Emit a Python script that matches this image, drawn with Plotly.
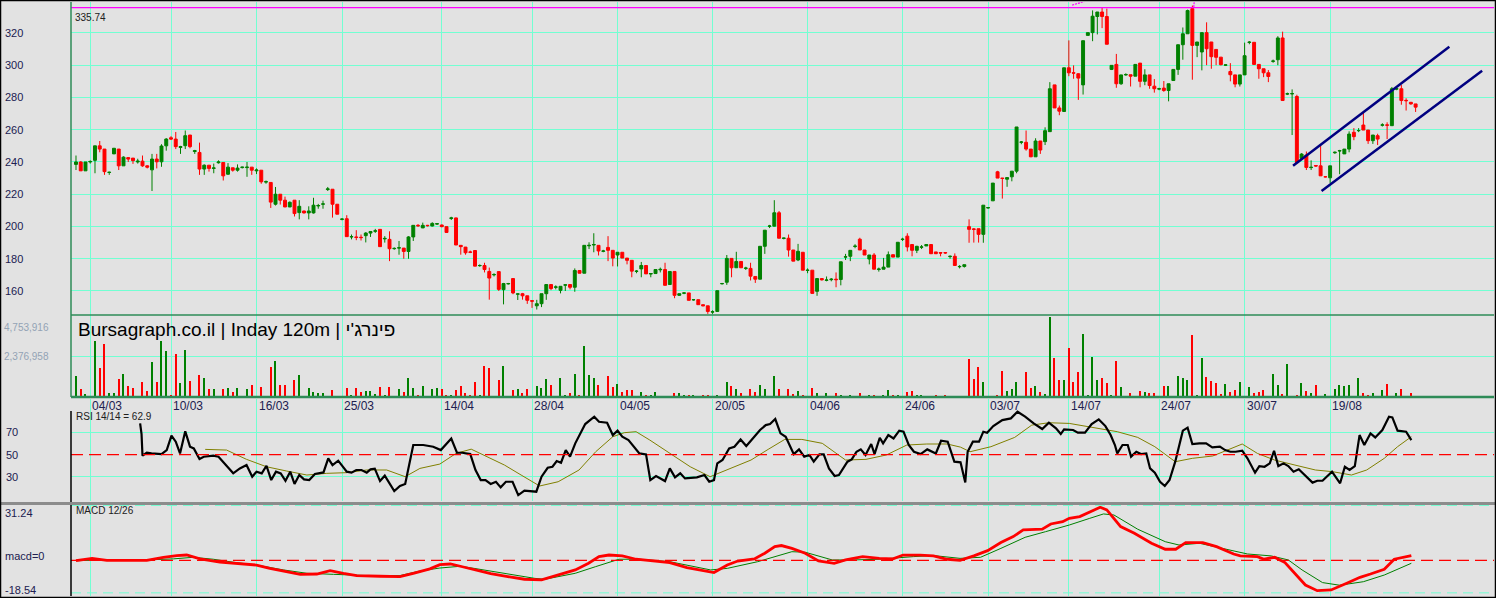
import plotly.graph_objects as go

# %% values, one entry per 120m bar
opens = [
    238.5, 240, 234.5, 240, 241, 250, 248, 233.5, 245, 248,
    237.6, 242.7, 242.4, 240, 240.5, 237.6, 235.1, 241.8, 240.1, 250,
    255, 254.2, 249, 250.1, 256.7, 246.5, 245.9, 235.6, 238, 236,
    239.5, 239.7, 232.4, 236.4, 234.9, 236.5, 236.5, 236.8, 234.5, 234.9,
    227.5, 227.3, 213.8, 220, 216.3, 212.1, 216.3, 208.6, 209.6, 208.4,
    208.4, 212.7, 213.8, 222.9, 223.1, 213.8, 204.4, 204.8, 193.5, 193.5,
    193.3, 194.3, 195.9, 197, 198.2, 192.3, 192, 186.2, 186.6, 186.6,
    184.5, 193.5, 200.7, 199.1, 200.7, 200.3, 201.5, 200.9, 199.9, 205,
    205.3, 188.3, 187.2, 184.2, 185.1, 175.7, 175.8, 172.1, 170, 172,
    160.8, 164.4, 167.7, 158, 158.3, 157, 154, 150.8, 152.1, 158.3,
    164, 162.3, 160.4, 163.6, 164, 162.3, 172.7, 171, 188, 188.5,
    188.3, 184.6, 187, 185.2, 182.3, 184, 180.4, 179, 172.1, 173.7,
    175.8, 170.5, 170.8, 173.1, 173.3, 164, 172.1, 157.3, 158.6, 158.8,
    154.5, 154.6, 151.5, 150.8, 146.9, 147.3, 164.5, 165.4, 180.2, 174.4,
    178.3, 174, 174, 169, 167.3, 187.7, 200.1, 200.2, 208.5, 192.6,
    192.7, 185.4, 179.2, 184, 172.7, 172.9, 159.8, 167.7, 166.6, 167,
    167.3, 167.1, 181, 181.5, 187.6, 192.1, 185.4, 179.8, 182.3, 173.3,
    173.5, 174.8, 182.5, 181, 191.9, 194, 188.8, 185.2, 187.1, 187.9,
    188.8, 184.2, 183.8, 183.8, 181.3, 181.5, 175, 175.2, 199.9, 198.5,
    198.6, 195.1, 211.5, 215.9, 233.9, 230, 229.3, 230.8, 234.3, 252.2,
    252.2, 248, 243.2, 253, 252.6, 258.8, 287.8, 273.5, 271.3, 298.4,
    295.3, 294.7, 287.8, 318.5, 320.2, 330.2, 333, 330.2, 297.4, 300.5,
    288.5, 294, 294.1, 293.2, 301.3, 290, 294, 287, 285.2, 285.8,
    284.3, 290.5, 297.4, 312.7, 319.5, 335.1, 312.3, 308.2, 320.2, 314.4,
    309.8, 305, 300, 296.1, 294, 288.3, 294, 314.1, 314.2, 300.5,
    297.8, 295.3, 302.4, 303.4, 316.9, 282.1, 282.2, 280.6, 242.2, 244.3,
    236.5, 237.8, 237.6, 230.8, 230.2, 245.7, 246.8, 245, 248, 258.4,
    259.4, 262.9, 259.8, 253.2, 256.3, 262.8, 263, 262.5, 285.2, 285.4,
    278.2, 277, 276,
]
highs = [
    244, 240.5, 240, 241, 250, 253, 248, 234, 248.5, 248,
    243.5, 243, 242.4, 242, 244, 238, 245, 245, 251, 254.8,
    256, 258.6, 250, 259.5, 256.7, 247.5, 252, 238.5, 238, 239,
    241, 239.7, 239.3, 236.4, 238.5, 237, 240, 236.8, 236, 234.9,
    228.5, 227.3, 224.5, 220, 218.5, 215.5, 216.3, 216.3, 209.8, 212.5,
    217.8, 214, 216, 224.5, 223.1, 213.8, 205, 207, 195, 197.7,
    195, 196.5, 197, 198.5, 198.2, 194, 197, 187, 191, 186.6,
    194, 200.7, 201.5, 202.4, 201, 202.6, 202, 201.2, 200, 206,
    205.5, 188.3, 187.3, 185, 185.1, 176.5, 177.5, 174.5, 171, 172,
    165, 165, 167.7, 158.5, 158.8, 157, 154, 154.5, 158.3, 164,
    164, 163.5, 163, 164, 164, 174, 172.7, 188.3, 190.2, 195.8,
    188.3, 185.5, 194, 185.2, 184, 184, 180.4, 179, 173, 178,
    175.8, 171, 173.3, 174.5, 177.5, 172.1, 172.1, 158.3, 159, 158.8,
    155, 154.6, 151.5, 150.8, 148, 160.2, 165, 182.3, 180.2, 184.3,
    178.3, 175, 177.5, 169, 187.7, 197.7, 201, 216.3, 209.6, 193,
    195, 185.4, 189.2, 184, 174, 172.9, 167.7, 167.7, 169, 168,
    171.5, 178.1, 183, 185.2, 189, 193, 185.4, 182.3, 183.5, 174.5,
    180.5, 184.5, 182.5, 190.2, 193, 195.8, 188.8, 188, 188.5, 189,
    189, 184.2, 184, 184, 182, 183.3, 176, 176.3, 204.4, 199,
    198.6, 213.2, 212, 226.9, 234.5, 230, 230.3, 234.3, 261.7, 253,
    259.5, 248, 254.7, 253, 261.5, 289.5, 287.8, 275, 298.4, 315.4,
    299.9, 295, 315.2, 320.2, 334, 333, 335.5, 335.1, 299.9, 307,
    294, 295, 294.1, 300.5, 301.3, 297.5, 294, 291.4, 286, 290.2,
    288.5, 297.4, 312.7, 323.4, 334.5, 337, 314.4, 320.2, 326.6, 314.4,
    310, 305, 300.5, 301.3, 294, 294, 314, 315, 314.2, 300.5,
    297.8, 297, 303.5, 318, 320.8, 283, 285, 281.7, 245.5, 246.5,
    241, 238, 250.7, 231.2, 237.6, 246.5, 247.5, 248, 259, 261,
    261, 271.2, 259.8, 256.7, 257.5, 264, 264.6, 286.5, 286, 287.7,
    279.5, 277.2, 276,
]
lows = [
    235, 234.5, 234.5, 239, 233, 246, 232, 232, 245, 235,
    237.6, 240, 238.8, 239, 237, 236, 222, 236, 237, 247,
    253.6, 248, 245, 248, 248.5, 245, 232, 232, 234, 233,
    239, 228.5, 232, 234, 234, 236, 230.8, 232, 232.5, 226.5,
    226.5, 211.5, 213, 213.6, 212, 212, 206.2, 204.4, 208, 204.4,
    208, 211, 211, 222, 205.5, 207.6, 203.8, 193.7, 192, 191.5,
    191.3, 190.1, 193.5, 196, 187.5, 190, 178.5, 185.6, 182.5, 180,
    180, 191, 199.8, 199, 200, 200, 201, 199.5, 196, 204,
    188.5, 182.5, 182.5, 183.5, 175.4, 175, 171.5, 154.6, 169, 160,
    151.7, 164, 158, 154.4, 154.6, 152, 149.5, 148.5, 150, 154.5,
    160.5, 161, 158.5, 160, 161, 159.5, 171, 171, 186, 184,
    182, 184, 178.5, 175.3, 175.2, 180.4, 176.5, 168.5, 171, 168.5,
    170.6, 168.5, 170.8, 171.5, 163.5, 164, 155.5, 157, 158, 154.2,
    154, 151.5, 150.5, 145.8, 145.8, 147.3, 164, 163.8, 168.5, 174.4,
    174.4, 173, 166.5, 165, 167.3, 183, 199, 200, 192.7, 192,
    181.3, 178.5, 178.5, 172.9, 171, 158.5, 157, 166.5, 166, 166,
    162.3, 163.5, 179.2, 178.5, 186.5, 185.4, 182.3, 176.5, 173.5, 172,
    173.5, 174.8, 181, 181, 191, 184.5, 181.5, 183.5, 186, 187.9,
    183, 183.1, 181.5, 183, 180, 175.8, 174, 174.5, 189.9, 190,
    190, 189.9, 211, 215.9, 230, 217.3, 224.6, 228, 233, 251,
    247, 243, 243.2, 245, 250.5, 258.8, 273.5, 269, 271.3, 293.2,
    291.6, 278.5, 281.8, 318.5, 314.9, 319.1, 323, 313, 297, 286,
    287.8, 293.5, 286.8, 293.2, 286.3, 287.6, 285.4, 283, 284.5, 283.5,
    277.6, 290.5, 294, 303.4, 319.5, 291, 305, 296.8, 300, 297.8,
    300, 299.9, 299.5, 290, 286.3, 286.8, 294, 313, 300.5, 291.6,
    292.6, 289.5, 301.5, 300, 278.1, 281.5, 256.7, 239.7, 241.5, 235,
    235, 237, 231.4, 230.4, 227, 245, 232.4, 245, 246, 253.5,
    258.5, 259.8, 251.2, 251.2, 250.5, 262, 254.2, 262.5, 284.5, 275.5,
    271.9, 275.5, 271,
]
closes = [
    240, 234.5, 240, 240.3, 250, 248, 234, 233.6, 248.5, 237.6,
    243, 241.8, 240.8, 240.5, 237.6, 236.8, 241.8, 240.1, 249.9, 254.2,
    254.2, 249.5, 249.5, 256.3, 249.5, 247, 235.6, 238, 236, 236.3,
    240, 231.4, 236.8, 234.9, 236.2, 236.8, 236.8, 234.9, 235, 227.7,
    227.8, 215.1, 220, 216.3, 212.1, 215, 208, 212.5, 208.4, 209.6,
    213.2, 213, 214, 223.3, 213.8, 207.6, 204.6, 193.7, 193.7, 193.2,
    193.1, 195.9, 196.9, 197.3, 187.5, 192.6, 186.2, 186.4, 186.8, 184.5,
    193.5, 200.7, 200.4, 200.7, 200.5, 201.9, 201.7, 199.9, 196.3, 205.3,
    188.5, 187.5, 183.7, 184, 175.4, 175.8, 173.3, 168, 170.2, 161,
    164.6, 164.6, 158.8, 158.2, 157, 154.2, 153.7, 152.1, 158.3, 164,
    161.5, 162.5, 162.9, 163.8, 162.3, 172.7, 171, 188.3, 188.3, 188.8,
    184.8, 184.8, 185.2, 180.4, 184, 180.4, 179, 172.3, 172.3, 175.8,
    170.6, 170.8, 173.3, 173.4, 163.5, 172.1, 157.3, 158.3, 158.8, 154.2,
    154.6, 151.5, 150.8, 147.3, 147.1, 160.2, 164.6, 180.2, 174.4, 178.3,
    174.4, 174.2, 169.2, 167.3, 187.7, 197.7, 200.3, 208.5, 192.7, 192.8,
    185.4, 178.5, 184.6, 172.9, 172.9, 158.5, 167.7, 166.9, 166.8, 167.3,
    167, 178.1, 181.2, 185.2, 187.8, 185.4, 182.3, 182.3, 173.5, 173.6,
    174.8, 182.5, 181, 190.2, 192.1, 187.3, 185.2, 187.7, 187.3, 188.8,
    183.1, 183.1, 183.5, 183.6, 181.5, 175.8, 175.2, 176.3, 198.2, 198.2,
    195.1, 213.2, 211.7, 226.9, 230, 229.8, 230.3, 234.3, 261.7, 252.4,
    248, 243.2, 253, 247.4, 259.4, 285.4, 273.5, 271.5, 298.4, 295.3,
    295.1, 292, 315.2, 320.2, 330.4, 333, 330.2, 313, 299.9, 288.5,
    294, 294.2, 293.2, 300.5, 290, 294, 287.4, 285.4, 285.4, 284.3,
    288.5, 297.4, 312.7, 319.5, 333.9, 312.3, 314.4, 320.2, 310.2, 305.3,
    304.9, 300.3, 300.2, 294.1, 288.3, 294, 305.9, 314.3, 300.5, 297.8,
    295.3, 293, 302.6, 316.9, 278.1, 282.3, 282.4, 239.7, 244.9, 236.6,
    236.7, 237.5, 231.4, 230.8, 237.6, 246, 247, 248, 257.3, 255.7,
    259.5, 259.8, 253.2, 256.7, 254.2, 263, 262.8, 285.4, 285.4, 278.1,
    278, 276, 274,
]
# volume, millions of shares
vol_m = [
    1.23, 0.46, 0.16, 0, 3.31, 1.70, 3.15, 0.2, 0.2, 1.05,
    1.35, 0.63, 0.5, 0, 0.87, 0.36, 2.06, 0.87, 3.31, 2.69,
    0.1, 2.54, 0.81, 2.77, 0.95, 0, 1.29, 1.11, 0.46, 0.46,
    0, 0.46, 0.5, 0.3, 0.5, 0, 0.46, 0.69, 0, 0.57,
    0, 1.76, 2.12, 0.69, 0.69, 0, 0.99, 1.29, 0, 0.5,
    0.3, 0.2, 0.2, 0, 0.4, 0, 0, 0.5, 0.12, 0.5,
    0.3, 0.36, 0.36, 0.15, 0.57, 0.1, 0.57, 0, 0.46, 0.3,
    1.11, 0.5, 0.12, 0.63, 0, 0.46, 0.5, 0.46, 0.12, 0.12,
    0.4, 0.63, 0.2, 0.12, 0.87, 0.12, 1.82, 1.70, 0, 0.99,
    1.82, 0, 0.4, 0.46, 0.2, 0.46, 0, 0.63, 0.5, 1.05,
    0.69, 0, 1.11, 0.12, 0.2, 1.35, 0.12, 3.01, 1.29, 1.11,
    0.69, 0, 1.23, 0.57, 0.75, 0.28, 0.4, 0.4, 0, 0.28,
    0.12, 0.1, 0.28, 0, 0, 0, 0.2, 0.2, 0.12, 0.1,
    0.1, 0, 0.1, 0.1, 0, 0.1, 0, 0.87, 0.63, 0.46,
    0.2, 0, 0.46, 0.28, 0.69, 0.46, 0, 1.23, 0.46, 0,
    0.46, 0.15, 0.34, 0.1, 0, 0.5, 0.2, 0, 0.2, 0,
    0.2, 0.12, 0, 0.1, 0, 0.2, 0, 0.12, 0.12, 0,
    0.1, 0.4, 0.1, 0.12, 0, 0.28, 0.34, 0.1, 0.1, 0,
    0, 0.1, 0, 0.1, 0, 0, 0, 0, 2.24, 1.05,
    1.76, 0.87, 0, 0, 0.1, 1.53, 0.34, 0.46, 0.87, 0,
    1.47, 0.5, 0.63, 0.28, 0.15, 4.75, 2.30, 0.99, 0.99, 2.89,
    0.87, 1.47, 3.72, 0.1, 2.36, 0.99, 1.11, 0.81, 0.1, 2.12,
    0.57, 0, 0.2, 0, 0.34, 0.28, 0.2, 0.2, 0, 0.63,
    0.63, 0, 1.23, 1.11, 0.99, 3.66, 0.1, 2.30, 1.17, 0.93,
    0.81, 0.15, 0.75, 0.28, 0.4, 0.87, 0, 0.57, 0.2, 0.28,
    0.4, 0, 1.35, 0.69, 0.15, 1.94, 0, 0.1, 0.81, 0.34,
    0.2, 0.69, 0, 0.15, 0, 0.46, 0.69, 0.63, 0.69, 0,
    1.11, 0.2, 0.12, 0.2, 0, 0.4, 0.75, 0, 0.2, 0.46,
    0, 0.2, 0,
]

# dates on the vertical grid (bar index where the day starts)
date_idx = [3, 20, 38, 56, 77, 96, 114, 134, 154, 174, 192, 209, 228, 246, 264]
date_labels = ['04/03', '10/03', '16/03', '25/03', '14/04', '28/04', '04/05', '20/05',
               '04/06', '24/06', '03/07', '14/07', '24/07', '30/07', '19/08']

price_ticks = [160, 180, 200, 220, 240, 260, 280, 300, 320]
price_max = 335.74
vol_ticks = [4.753916, 2.376958]
vol_labels = ['4,753,916', '2,376,958']
rsi_ticks = [70, 50, 30]
macd_top, macd_bot = 31.24, -18.54

# RSI 14 (line vertices, bar index / value)
rsi_x = [13.5, 13.8, 14.0, 14.9, 15.9, 18.0, 19.1, 20.1, 21.0, 21.9,
         23.0, 24.0, 24.8, 26.0, 26.9, 28.9, 30.0, 33.1, 34.5, 35.9,
         37.1, 38.0, 39.1, 40.1, 41.1, 42.1, 43.1, 44.1, 45.1, 46.0,
         47.0, 48.0, 49.1, 50.3, 52.1, 53.1, 54.0, 55.2, 57.0, 58.0,
         59.0, 60.1, 61.2, 62.0, 62.9, 64.0, 65.0, 66.0, 67.0, 68.2,
         69.3, 71.0, 73.1, 75.2, 76.8, 79.0, 80.2, 81.3, 83.0, 84.1,
         85.2, 86.2, 87.3, 88.4, 89.4, 90.5, 91.9, 93.1, 94.4, 96.9,
         98.0, 99.3, 100.3, 101.2, 102.1, 103.1, 104.0, 105.1, 106.1, 107.2,
         109.1, 110.1, 111.8, 113.0, 114.0, 115.0, 116.3, 117.2, 118.6, 120.0,
         120.9, 122.1, 124.0, 125.0, 126.1, 127.2, 128.2, 130.7, 132.3, 133.3,
         134.3, 135.0, 136.1, 137.5, 138.6, 139.9, 141.1, 142.2, 144.0, 145.2,
         146.1, 147.2, 148.3, 149.4, 151.1, 152.2, 153.3, 154.4, 155.3, 156.5,
         157.4, 158.5, 159.7, 160.6, 162.4, 163.3, 164.3, 165.2, 166.2, 167.4,
         168.1, 169.2, 169.9, 171.0, 172.1, 173.3, 174.2, 175.3, 176.4, 177.8,
         179.2, 181.0, 182.1, 183.5, 184.9, 186.2, 187.2, 187.7, 188.8, 190.1,
         191.0, 191.8, 193.1, 195.0, 196.8, 198.2, 199.8, 201.6, 203.4, 204.8,
         206.3, 207.3, 208.0, 209.9, 210.9, 212.4, 213.8, 215.3, 216.7, 217.8,
         218.7, 219.2, 220.3, 221.4, 222.1, 223.2, 224.2, 225.3, 226.1, 227.1,
         228.2, 229.2, 230.2, 231.4, 232.2, 233.0, 234.0, 235.0, 236.5, 237.9,
         239.2, 240.8, 241.9, 243.0, 244.1, 245.5, 246.6, 248.2, 249.1, 250.2,
         251.3, 252.2, 253.1, 254.2, 255.2, 256.3, 257.4, 260.3, 261.3, 262.4,
         264.4, 265.3, 266.1, 267.1, 268.1, 269.2, 270.2, 271.2, 272.5, 273.5,
         275.0, 276.4, 277.1, 278.2, 280.0, 281.1]
rsi_v = [77.8, 68.3, 49, 51.6, 51, 50.4, 54, 66.8, 61.5, 51,
         70.7, 57, 55.5, 46, 48, 49, 48, 33.2, 37.6, 40.6,
         30.2, 34.7, 33.2, 40, 27.2, 34.7, 33.2, 26.6, 34.7, 23.7,
         31.7, 27.8, 27.2, 32.6, 34, 46.6, 40.6, 44.5, 34.7, 33.8,
         36.2, 36.2, 33.8, 36.8, 37.4, 26.3, 31.1, 24.3, 17.4, 21.9,
         23.7, 58.5, 58.5, 57, 54, 64.3, 51.6, 51.6, 50.4, 36.2,
         27.2, 27.2, 23.7, 25.7, 20.7, 25.7, 25.7, 13.8, 17.7, 16.8,
         30.2, 38.2, 39.1, 44.2, 42.7, 54, 48.1, 60, 68.9, 77.2,
         83.8, 79.3, 78.4, 67.4, 71.3, 65.9, 62.9, 58.5, 51, 50.1,
         27.2, 30.8, 26.3, 37.6, 29.6, 33.2, 28.7, 29.6, 31.7, 25.7,
         27.2, 42.1, 45.1, 55.5, 57, 63.5, 57.6, 62.9, 71.9, 76.3,
         77.2, 81.7, 68.9, 65.9, 50.4, 54.6, 48.1, 49.6, 43.6, 50.1,
         50.1, 37.6, 30.8, 31.7, 43.6, 45.7, 52.5, 54.6, 49.6, 59.4,
         50.4, 65, 60, 67.4, 64.4, 71.3, 70.4, 58.5, 52.5, 50.4,
         54.6, 51, 62.3, 61.4, 43.6, 43, 25, 52.5, 61.5, 61.5,
         70.4, 69.5, 75.4, 80.8, 82.3, 88.2, 83.8, 77.8, 72.8, 78.4,
         73.4, 68.3, 72.5, 71.9, 69.5, 69.5, 77.2, 81.4, 75.4, 67.4,
         58.5, 51, 58.5, 58.5, 48.1, 52.5, 50.4, 51, 37.6, 33.8,
         25.7, 21.9, 27.2, 43.6, 57, 71.3, 74, 59.4, 60, 60,
         56.4, 57, 54, 52.5, 52.5, 53.4, 46.6, 33.8, 39.7, 39.1,
         42.1, 53.4, 39.7, 42.1, 39.7, 34.7, 36.8, 24.9, 26.6, 26.6,
         34.7, 28.7, 24.3, 39.1, 36.2, 39.7, 67.4, 58.5, 68.9, 65.3,
         71.9, 83.8, 83.2, 71.3, 70.4, 62.9]
rsi_sig_x = [27.2, 31.7, 35.9, 40.1, 44.3, 48.6, 52.8, 57.0, 61.2, 65.4,
             69.3, 72.4, 76.6, 80.0, 83.2, 86.6, 90.2, 93.7, 97.6, 101.5,
             105.9, 109.4, 113.0, 115.4, 117.9, 120.8, 125.0, 129.3, 133.5, 137.8,
             142.1, 145.7, 149.2, 152.8, 157.1, 162.0, 166.3, 170.6, 174.9, 179.1,
             183.4, 186.2, 188.2, 192.6, 197.6, 201.2, 204.8, 209.1, 214.9, 219.2,
             223.5, 227.1, 231.4, 235.0, 239.3, 243.0, 245.5, 248.7, 252.3, 256.6,
             260.9, 264.5, 268.5, 271.7, 275.4, 278.2, 281.1]
rsi_sig_v = [54.6, 54, 45.7, 39.1, 35.3, 31.7, 33.2, 33.8, 36.2, 36.2,
             30.2, 37.6, 41.5, 51, 54.8, 48.1, 40.6, 31.7, 21.9, 25.7,
             36.2, 52.5, 65.9, 69.5, 70.4, 62.9, 51, 39.1, 30.2, 37.6,
             45.1, 54.6, 63.5, 63.5, 60, 45.1, 45.7, 49.6, 58.5, 59.4,
             59.4, 56.6, 52.5, 57, 65.3, 76.3, 78.4, 77.8, 73.4, 70.4,
             65.3, 57, 43.6, 46.6, 48.7, 55.5, 59.4, 51, 45.1, 40.6,
             36.2, 34.7, 31.7, 36.2, 46.6, 57, 65.9]

# MACD 12/26 and its signal line
macd_x = [0, 3.4, 6.5, 12.0, 14.9, 18.4, 21.2, 23.3, 26.1, 30.3,
          34.5, 38.0, 40.8, 44.4, 47.2, 50.7, 53.5, 56.3, 59.1, 64.0,
          68.2, 71.0, 74.5, 76.6, 78.8, 80.9, 83.8, 87.3, 90.9, 94.4,
          98.0, 101.5, 105.1, 107.9, 110.1, 112.2, 115.0, 117.9, 120.8, 125.0,
          128.6, 132.1, 134.3, 137.1, 139.3, 142.8, 145.0, 147.1, 148.5, 150.7,
          153.5, 156.3, 159.6, 162.0, 165.6, 169.1, 172.0, 174.1, 177.7, 180.5,
          183.4, 186.1, 189.0, 191.9, 194.7, 197.3, 199.4, 203.4, 205.2, 207.7,
          209.1, 211.3, 213.4, 215.6, 217.0, 219.9, 222.8, 226.4, 229.3, 231.5,
          233.6, 237.2, 240.1, 243.7, 245.1, 248.7, 250.1, 252.3, 254.5, 256.3,
          258.8, 261.3, 264.2, 267.5, 270.3, 272.5, 275.4, 277.5, 279.7, 281.1]
macd_v = [-0.2, 1.1, 0, 0.2, 0, 1.7, 2.7, 3, 0.8, -1.1,
          -2.1, -2.7, -4.6, -6.5, -8, -7.8, -5.9, -7.4, -8.7, -9.1,
          -9.3, -7.4, -4.9, -2.5, -2.1, -3.4, -5.5, -7.6, -9.3, -10.8,
          -11.2, -8.4, -5.5, -1.7, 2.1, 3, 2.5, 0.6, -0.2, -1.3,
          -4.2, -5.9, -7, -2.7, -0.4, 0.8, 4, 7.8, 8.4, 6.8,
          4, -0.4, -1.7, 0.2, 2.1, 1.1, 0.8, 3, 3, 2.5,
          0.6, 0, 2.5, 5.5, 10.1, 13.5, 17.3, 17.7, 20.7, 22,
          23.9, 24.9, 27.7, 30.2, 28.7, 19.2, 15.4, 9.7, 6.3, 6.3,
          10.1, 10.1, 7.8, 3.6, 2.5, 2.1, 0.6, 1.7, -1.3, -6.5,
          -14.1, -17.3, -16.9, -13.1, -9.7, -7.8, -5.1, 0.6, 2.1, 2.7]
signal_x = [0, 6.5, 14.9, 20.5, 24.7, 28.9, 33.1, 38.0, 43.7, 48.6,
            54.2, 61.2, 68.2, 72.4, 76.6, 80.9, 83.8, 90.9, 96.6, 98.7,
            105.1, 109.4, 114.3, 118.6, 125.0, 133.6, 137.1, 143.5, 147.8, 150.7,
            153.5, 159.2, 163.5, 169.1, 176.3, 180.5, 186.1, 190.4, 194.7, 199.8,
            204.1, 209.1, 213.4, 216.3, 218.5, 223.5, 229.3, 232.2, 236.5, 241.5,
            246.6, 251.6, 255.2, 258.1, 262.4, 266.0, 271.0, 275.4, 281.1]
signal_v = [-0.2, 0.2, 0.2, 0.8, 1.7, 0.6, -1.1, -2.7, -5.5, -7.4,
            -8, -8.7, -8.7, -6.1, -4.4, -3.4, -4.6, -7.8, -10.3, -10.8,
            -7.4, -3.6, 0.6, 0.6, -0.8, -5.5, -4.6, -0.8, 2.5, 4.9,
            4.6, 0.2, 0.2, 0.6, 2.1, 2.7, 1.1, 1.7, 6.8, 13.1,
            16.3, 20.1, 23.9, 26.4, 25.8, 17.7, 10.6, 8.7, 9.7, 6.8,
            3.6, 2.5, 0.2, -5.5, -12.7, -14.2, -12.2, -8.4, -1.7]

# hand drawn channel and trendline stubs (bar index / price)
chan_up_x, chan_up_y = [256.2, 289.1], [237.7, 311.5]
chan_lo_x, chan_lo_y = [262.2, 296.0], [222.0, 296.6]
stub1_x, stub1_y = [209.7, 212.6], [337.3, 339.8]
stub2_x, stub2_y = [235.3, 235.4], [336.0, 339.8]

# %% geometry helpers (pixel -> paper)
W, H = 1496, 598
ML, MR, MT, MB = 71, 2, 2, 2
PW, PH = W - ML - MR, H - MT - MB


def px_x(px):
    return (px - ML) / PW


def px_y(py):
    return (H - MB - py) / PH


BG = '#E2E2E2'
GRID = '#72FFD2'
TEAL = '#2E8B57'
GREEN = '#008000'
RED = '#FF0000'
LABEL = '#202050'
FONT = 'Liberation Sans, Arial, sans-serif'

bars = list(range(len(opens)))
vol_colors = [GREEN if c >= o else RED for o, c in zip(opens, closes)]

fig = go.Figure()

fig.add_trace(go.Candlestick(
    x=bars, open=opens, high=highs, low=lows, close=closes,
    xaxis='x', yaxis='y',
    increasing=dict(line=dict(color=GREEN, width=1), fillcolor=GREEN),
    decreasing=dict(line=dict(color=RED, width=1), fillcolor=RED),
    whiskerwidth=0, showlegend=False, hoverinfo='skip'))

for xs, ys in [(chan_up_x, chan_up_y), (chan_lo_x, chan_lo_y)]:
    fig.add_trace(go.Scatter(x=xs, y=ys, mode='lines', xaxis='x', yaxis='y',
                             line=dict(color='#000080', width=2.5), showlegend=False))
for xs, ys in [(stub1_x, stub1_y), (stub2_x, stub2_y)]:
    fig.add_trace(go.Scatter(x=xs, y=ys, mode='lines', xaxis='x', yaxis='y',
                             line=dict(color='#FF00FF', width=1.2, dash='2px,1px'), showlegend=False))

fig.add_trace(go.Bar(x=bars, y=vol_m, xaxis='x2', yaxis='y2', width=0.3,
                     marker=dict(color=vol_colors, line=dict(width=0)), showlegend=False))

fig.add_trace(go.Scatter(x=rsi_sig_x, y=rsi_sig_v, mode='lines', xaxis='x3', yaxis='y3',
                         line=dict(color='#808000', width=1), showlegend=False))
fig.add_trace(go.Scatter(x=rsi_x, y=rsi_v, mode='lines', xaxis='x3', yaxis='y3',
                         line=dict(color='black', width=2.2), showlegend=False))

fig.add_trace(go.Scatter(x=signal_x, y=signal_v, mode='lines', xaxis='x4', yaxis='y4',
                         line=dict(color=GREEN, width=1), showlegend=False))
fig.add_trace(go.Scatter(x=macd_x, y=macd_v, mode='lines', xaxis='x4', yaxis='y4',
                         line=dict(color=RED, width=2.8), showlegend=False))

xr = [-1.05, 298.5]
common_x = dict(range=xr, showticklabels=False, ticks='', tickvals=date_idx, showgrid=True,
                gridcolor=GRID, gridwidth=1, zeroline=False, showline=False, fixedrange=True)
common_y = dict(showticklabels=False, ticks='', zeroline=False, showline=False,
                gridcolor=GRID, gridwidth=1, fixedrange=True)

fig.update_layout(
    width=W, height=H,
    margin=dict(l=ML, r=MR, t=MT, b=MB),
    paper_bgcolor=BG, plot_bgcolor=BG,
    showlegend=False, hovermode=False,
    boxgap=0.12, bargap=0,
    font=dict(family=FONT, size=11, color=LABEL),
    xaxis=dict(common_x, anchor='y', rangeslider=dict(visible=False)),
    xaxis2=dict(common_x, anchor='y2', matches='x'),
    xaxis3=dict(common_x, anchor='y3', matches='x'),
    xaxis4=dict(common_x, anchor='y4', matches='x'),
    yaxis=dict(common_y, domain=[px_y(315), 1], range=[145.1, 339.2],
               tickvals=price_ticks, showgrid=True, anchor='x'),
    yaxis2=dict(common_y, domain=[px_y(397), px_y(315)], range=[-0.018, 4.855],
                tickvals=[vol_ticks[1]], showgrid=True, anchor='x2'),
    yaxis3=dict(common_y, domain=[px_y(501), px_y(399)], range=[8.5, 99.6],
                tickvals=[30, 70], showgrid=True, anchor='x3'),
    yaxis4=dict(common_y, domain=[0, px_y(505)], range=[-20.34, 31.5],
                showgrid=False, anchor='x4'),
)

shapes = [
    # magenta high-water line
    dict(type='line', xref='paper', yref='y', x0=0, x1=1, y0=price_max, y1=price_max,
         line=dict(color='#FF00FF', width=1.2)),
    # RSI mid line, MACD zero and extremes
    dict(type='line', xref='paper', yref='y3', x0=0, x1=1, y0=50, y1=50,
         line=dict(color=RED, width=1.3, dash='12px,6px')),
    dict(type='line', xref='paper', yref='y4', x0=0, x1=1, y0=0, y1=0,
         line=dict(color=RED, width=1.3, dash='12px,6px')),
    dict(type='line', xref='paper', yref='y4', x0=0, x1=1, y0=macd_top, y1=macd_top,
         line=dict(color=GRID, width=1, dash='10px,6px')),
    dict(type='line', xref='paper', yref='y4', x0=0, x1=1, y0=macd_bot, y1=macd_bot,
         line=dict(color=GRID, width=1, dash='10px,6px')),
    # panel borders
    dict(type='line', xref='paper', yref='paper', x0=0, x1=1, y0=px_y(315), y1=px_y(315),
         line=dict(color=TEAL, width=1.5)),
    dict(type='line', xref='paper', yref='paper', x0=0, x1=1, y0=px_y(397), y1=px_y(397),
         line=dict(color=TEAL, width=2.5)),
    dict(type='line', xref='paper', yref='paper', x0=0, x1=0, y0=px_y(397), y1=1,
         line=dict(color=TEAL, width=1.5)),
    dict(type='line', xref='paper', yref='paper', x0=0, x1=0, y0=0, y1=px_y(411),
         line=dict(color='black', width=1.5)),
    dict(type='line', xref='paper', yref='paper', x0=px_x(0), x1=px_x(W), y0=px_y(503.5), y1=px_y(503.5),
         line=dict(color='#8C8C8C', width=3)),
    # outer frame
    dict(type='rect', xref='paper', yref='paper', x0=px_x(0.5), x1=px_x(W - 0.5),
         y0=px_y(H - 0.5), y1=px_y(0.5), line=dict(color='black', width=1.5)),
]
fig.update_layout(shapes=shapes)

ann = []
for v in price_ticks:
    ann.append(dict(x=px_x(3), y=v, xref='paper', yref='y', text=str(v), showarrow=False,
                    xanchor='left', yanchor='middle', font=dict(size=11, color=LABEL)))
for py, t in zip([327, 356.7], vol_labels):
    ann.append(dict(x=px_x(2), y=px_y(py), xref='paper', yref='paper', text=t, showarrow=False,
                    xanchor='left', yanchor='middle', font=dict(size=10, color='#93A3B5')))
for v in rsi_ticks:
    ann.append(dict(x=px_x(4), y=v, xref='paper', yref='y3', text=str(v), showarrow=False,
                    xanchor='left', yanchor='middle', font=dict(size=11, color=LABEL)))
ann.append(dict(x=px_x(3), y=macd_top, xref='paper', yref='y4', text=f'{macd_top:.2f}', showarrow=False,
                xanchor='left', yanchor='top', font=dict(size=11, color=LABEL)))
ann.append(dict(x=px_x(3), y=0, xref='paper', yref='y4', text='macd=0', showarrow=False,
                xanchor='left', yanchor='middle', yshift=4, font=dict(size=11, color=LABEL)))
ann.append(dict(x=px_x(3), y=macd_bot, xref='paper', yref='y4', text=f'{macd_bot:.2f}', showarrow=False,
                xanchor='left', yanchor='middle', yshift=3, font=dict(size=11, color=LABEL)))
for i, t in zip(date_idx, date_labels):
    ann.append(dict(x=i, y=px_y(406), xref='x', yref='paper', text=t, showarrow=False,
                    xanchor='left', yanchor='middle', xshift=0, font=dict(size=12, color=LABEL)))
ann.append(dict(x=px_x(73), y=px_y(9.5), xref='paper', yref='paper', text=f'{price_max:.2f}',
                showarrow=False, xanchor='left', yanchor='top', font=dict(size=10, color='#202020')))
ann.append(dict(x=px_x(76), y=px_y(330), xref='paper', yref='paper',
                text="Bursagraph.co.il | Inday 120m | פינרג'י", showarrow=False,
                xanchor='left', yanchor='middle', font=dict(size=19, color='black')))
ann.append(dict(x=px_x(74), y=px_y(416), xref='paper', yref='paper', text='RSI 14/14 = 62.9',
                showarrow=False, xanchor='left', yanchor='middle', font=dict(size=10, color='#202020')))
ann.append(dict(x=px_x(74), y=px_y(510.5), xref='paper', yref='paper', text='MACD 12/26',
                showarrow=False, xanchor='left', yanchor='middle', font=dict(size=10, color='#202020')))
fig.update_layout(annotations=ann)

# page body has a default 8px margin; drop it so the figure sits at the window corner
fig.write_html("out.html", config={'displayModeBar': False},
               post_script="document.body.style.margin='0';")
